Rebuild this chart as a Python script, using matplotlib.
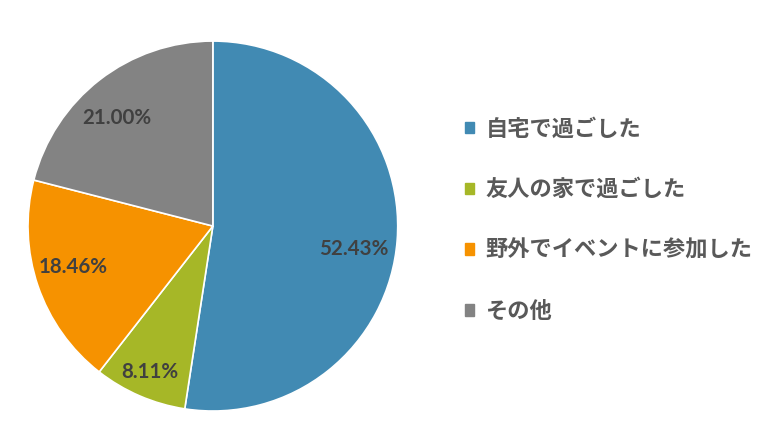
import numpy as np
import matplotlib
matplotlib.use('Agg')
import matplotlib.pyplot as plt
import matplotlib.patches as mpatches

plt.rcParams['font.family'] = ['Noto Sans CJK JP', 'DejaVu Sans']

# data
labels = ['自宅で過ごした', '友人の家で過ごした', '野外でイベントに参加した', 'その他']
values = [52.43, 8.11, 18.46, 21.00]
colors = ['#418AB3', '#A6B727', '#F69200', '#838383']

fig = plt.figure(figsize=(7.8, 4.42), dpi=100)
ax = fig.add_axes([0.0359, 0.0701, 0.474, 0.837])

wedges, _ = ax.pie(values, colors=colors, startangle=90, counterclock=False,
                   wedgeprops=dict(edgecolor='white', linewidth=1.2))
ax.set_xlim(-1, 1)
ax.set_ylim(-1, 1)
ax.set_aspect('auto')

# label placement (radius fraction, angle shift in deg) - excel style best fit
label_radius = [0.77, 0.86, 0.79, 0.78]
label_shift = [-5, 0, -2.5, 4]
for w, v, r, s in zip(wedges, values, label_radius, label_shift):
    mid = np.deg2rad((w.theta1 + w.theta2) / 2 + s)
    ax.text(r * np.cos(mid), r * np.sin(mid), '%.2f%%' % v,
            ha='center', va='center', fontsize=14.8, fontweight='bold',
            color='#404040', family=['Lato', 'DejaVu Sans'])

handles = [mpatches.Patch(color=c) for c in colors]
leg = fig.legend(handles, labels, loc='center left', bbox_to_anchor=(0.596, 0.502),
                 frameon=False, fontsize=16, handlelength=0.42, handleheight=0.42,
                 handletextpad=0.5, labelspacing=1.7, borderpad=0, borderaxespad=0)
for t in leg.get_texts():
    t.set_color('#595959')
    t.set_fontweight('bold')

fig.savefig('out.png', dpi=100)
